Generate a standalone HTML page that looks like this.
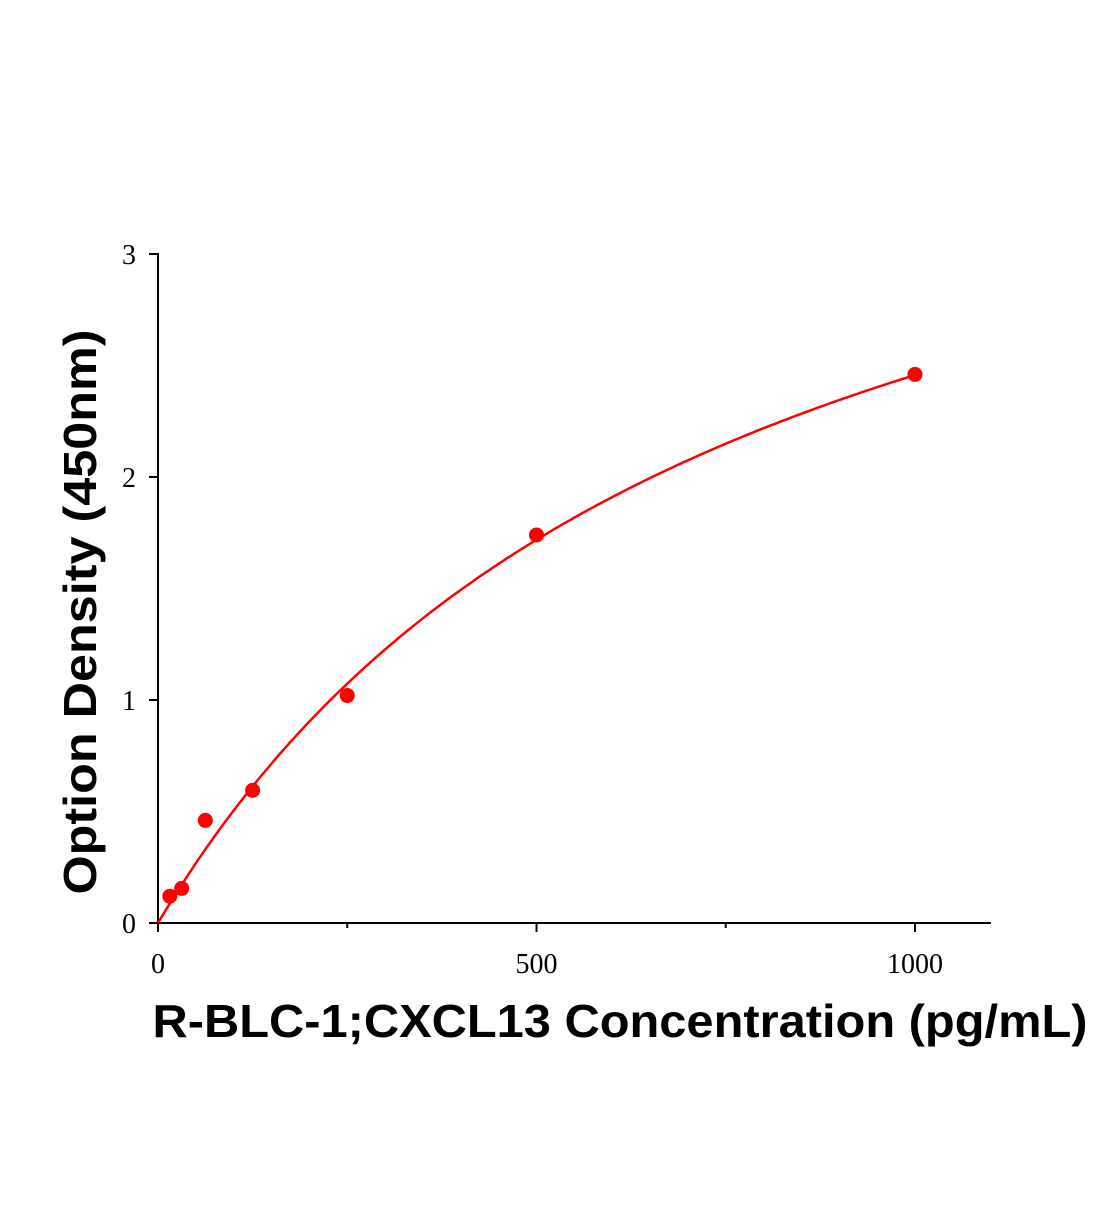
<!DOCTYPE html>
<html><head><meta charset="utf-8"><style>
body{margin:0;background:#fff;width:1104px;height:1200px;overflow:hidden}
</style></head><body>
<svg width="1104" height="1200" xmlns="http://www.w3.org/2000/svg">
<g id="axes"></g><g id="marks"></g>
<text transform="translate(96,612) rotate(-90)" text-anchor="middle" font-family="Liberation Sans, sans-serif" font-weight="bold" font-size="46" textLength="565" lengthAdjust="spacingAndGlyphs">Option Density (450nm)</text>
<text x="620" y="1037" text-anchor="middle" font-family="Liberation Sans, sans-serif" font-weight="bold" font-size="46" textLength="935" lengthAdjust="spacingAndGlyphs">R-BLC-1;CXCL13 Concentration (pg/mL)</text>
</svg>
<script>
const xTicks=[0,500,1000];
const xMinor=[250,750];
const yTicks=[0,1,2,3];
const concentrations=[15.6,31.25,62.5,125,250,500,1000];
const odValues=[0.12,0.155,0.46,0.595,1.02,1.74,2.46];
const fitA=4.31, fitK=754;
const X=v=>158+v*0.757, Y=v=>923-v*223;
const NS="http://www.w3.org/2000/svg";
const ax=document.getElementById('axes'), mk=document.getElementById('marks');
function el(t,a,p){const e=document.createElementNS(NS,t);for(const k in a)e.setAttribute(k,a[k]);p.appendChild(e);return e;}
let l=el('line',{x1:158,y1:923,x2:991,y2:923,stroke:'#000','stroke-width':2},ax);


l=el('line',{x1:158,y1:923,x2:158,y2:253,stroke:'#000','stroke-width':2},ax);


xTicks.forEach(v=>{
 const t=el('line',{x1:X(v),y1:923,x2:X(v),y2:932,stroke:'#000','stroke-width':2},ax);
 
 
 const s=el('text',{x:X(v),y:973,'text-anchor':'middle','font-family':'Liberation Serif, serif','font-size':28},ax);
 s.textContent=v;
 
 
});
xMinor.forEach(v=>{
 const t=el('line',{x1:X(v),y1:923,x2:X(v),y2:928,stroke:'#000','stroke-width':2},ax);
 
 
});
yTicks.forEach(v=>{
 const t=el('line',{x1:149,y1:Y(v),x2:158,y2:Y(v),stroke:'#000','stroke-width':2},ax);
 
 
 const s=el('text',{x:136,y:Y(v)+10,'text-anchor':'end','font-family':'Liberation Serif, serif','font-size':28},ax);
 s.textContent=v;
 
 
});
let d='';
for(let i=0;i<=200;i++){const x=i*5;const y=fitA*x/(fitK+x);d+=(i?'L':'M')+X(x).toFixed(1)+','+Y(y).toFixed(1);}
const p=el('path',{d:d,fill:'none',stroke:'#f00','stroke-width':2.5},mk);


concentrations.forEach((c,i)=>{
 const ci=el('circle',{cx:X(c),cy:Y(odValues[i]),r:7.5,fill:'#f00'},mk);
 
 
});
</script>
</body></html>
